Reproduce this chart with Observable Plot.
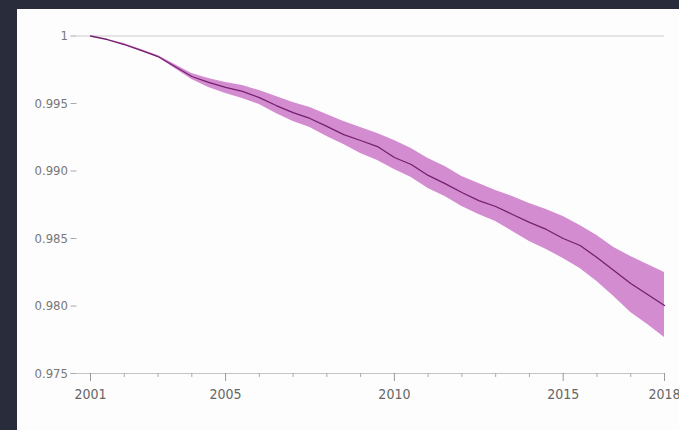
<!DOCTYPE html>
<html>
<head>
<meta charset="utf-8">
<script src="https://cdn.jsdelivr.net/npm/d3@7"></script>
<script src="https://cdn.jsdelivr.net/npm/@observablehq/plot@0.6"></script>
<style>
  html, body { margin: 0; padding: 0; }
  body { width: 679px; height: 430px; background: #282c3b; overflow: hidden; position: relative; }
  #panel { position: absolute; left: 17px; top: 9px; width: 662px; height: 421px; background: #fdfdfd; }
</style>
</head>
<body>
<div id="panel"></div>
<script>
const years = [2001, 2001.5, 2002, 2002.5, 2003, 2003.5, 2004, 2004.5, 2005, 2005.5, 2006, 2006.5, 2007, 2007.5, 2008, 2008.5, 2009, 2009.5, 2010, 2010.5, 2011, 2011.5, 2012, 2012.5, 2013, 2013.5, 2014, 2014.5, 2015, 2015.5, 2016, 2016.5, 2017, 2017.5, 2018];
const median = [1.0000, 0.99974, 0.99937, 0.99893, 0.99848, 0.99774, 0.99700, 0.99656, 0.99619, 0.99589, 0.99544, 0.99485, 0.99433, 0.99389, 0.99330, 0.99270, 0.99226, 0.99181, 0.99100, 0.99048, 0.98967, 0.98907, 0.98841, 0.98781, 0.98737, 0.98678, 0.98619, 0.98567, 0.98500, 0.98448, 0.98359, 0.98263, 0.98167, 0.98085, 0.98004];
const upper = [1.0000, 0.99974, 0.99944, 0.99900, 0.99856, 0.99789, 0.99722, 0.99685, 0.99656, 0.99633, 0.99596, 0.99552, 0.99507, 0.99470, 0.99419, 0.99367, 0.99322, 0.99278, 0.99226, 0.99167, 0.99093, 0.99033, 0.98959, 0.98907, 0.98856, 0.98811, 0.98759, 0.98715, 0.98663, 0.98596, 0.98522, 0.98433, 0.98367, 0.98307, 0.98248];
const lower = [1.0000, 0.99974, 0.99930, 0.99885, 0.99841, 0.99759, 0.99678, 0.99619, 0.99574, 0.99537, 0.99493, 0.99426, 0.99367, 0.99322, 0.99256, 0.99196, 0.99130, 0.99078, 0.99011, 0.98952, 0.98870, 0.98811, 0.98737, 0.98678, 0.98626, 0.98552, 0.98478, 0.98419, 0.98352, 0.98278, 0.98181, 0.98070, 0.97952, 0.97863, 0.97767];

const yTicks = [1, 0.995, 0.990, 0.985, 0.980, 0.975];
const xMajorTicks = [2001, 2005, 2010, 2015, 2018];
const xMinorTicks = [2002, 2003, 2004, 2006, 2007, 2008, 2009, 2011, 2012, 2013, 2014, 2016, 2017];

const data = years.map((year, i) => ({year, median: median[i], upper: upper[i], lower: lower[i]}));

const font = "DejaVu Sans Condensed";

const chart = Plot.plot({
  width: 662,
  height: 421,
  marginLeft: 59.5,
  marginRight: 15,
  marginTop: 26.5,
  marginBottom: 57,
  style: {
    background: "transparent",
    overflow: "visible"
  },
  x: {domain: [2000.6, 2018]},
  y: {domain: [0.975, 1]},
  marks: [
    Plot.ruleY([1], {stroke: "#e4e4e4", strokeWidth: 2}),
    Plot.areaY(data, {x: "year", y1: "lower", y2: "upper", fill: "#d48cd1"}),
    Plot.lineY(data, {x: "year", y: "median", stroke: "#74206e", strokeWidth: 1.3}),
    Plot.ruleY([0.975], {stroke: "#c4c4c4", strokeWidth: 1}),
    Plot.axisX({ticks: xMinorTicks, tickSize: 4, tickFormat: () => "", stroke: "#aaa", label: null}),
    Plot.axisX({ticks: xMajorTicks, tickSize: 8, tickPadding: 8, tickFormat: d => String(d), stroke: "#999", fill: "#666", fontSize: 14, fontFamily: font, label: null}),
    Plot.axisY({ticks: yTicks, tickSize: 6, tickPadding: 3, tickFormat: d => d === 1 ? "1" : d3.format(".3f")(d), stroke: "#aaa", fill: "#777", fontSize: 13, fontFamily: font, label: null})
  ]
});
document.getElementById("panel").appendChild(chart);
</script>
</body>
</html>
